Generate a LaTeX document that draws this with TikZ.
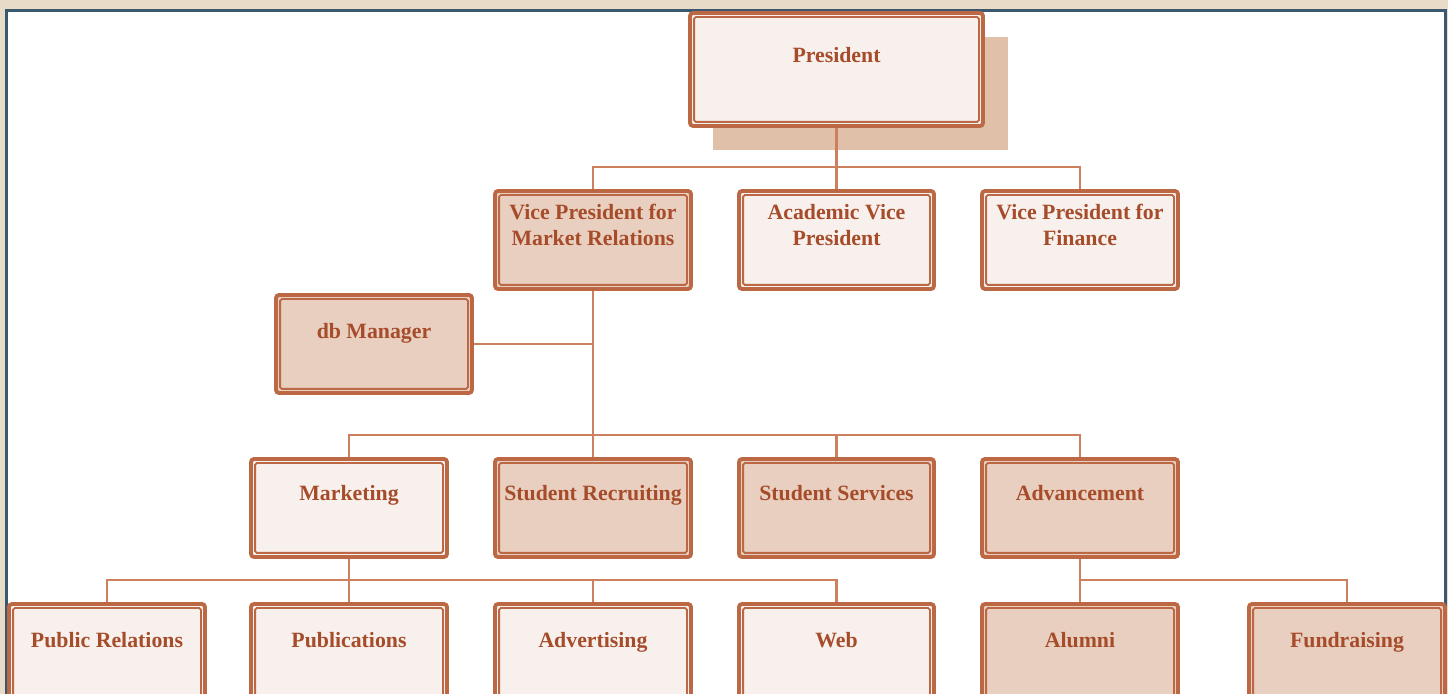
\documentclass[tikz,border=0pt]{standalone}
\usepackage{fontspec}
\setmainfont{Liberation Serif}
\definecolor{bord}{RGB}{188,104,68}
\definecolor{conn}{RGB}{204,128,94}
\definecolor{txtc}{RGB}{166,76,42}
\definecolor{dk}{RGB}{232,207,191}
\definecolor{lt}{RGB}{247,240,236}
\definecolor{shad}{RGB}{225,192,170}
\definecolor{frame}{RGB}{58,88,112}
\definecolor{beige}{RGB}{232,220,200}
\tikzset{
  box/.style={draw=bord, line width=1.9pt, rounded corners=1.5pt, inner sep=0pt},
  innerbox/.style={draw=bord, line width=0.9pt, rounded corners=0.8pt},
  lbl/.style={font=\fontsize{10.9}{13}\selectfont\bfseries, text=txtc, align=center,
              inner sep=0pt, text height=7.2pt, text depth=0pt},
  link/.style={draw=conn, line width=1.45pt},
}
\newcommand\obox[6]{\node[box, fill=#6, minimum width=#4*0.5pt, minimum height=#5*0.5pt] (#1) at (#2,#3) {};}
\begin{document}
\begin{tikzpicture}[x=0.5pt, y=-0.5pt]
\useasboundingbox (0,0) rectangle (1448,694);
\clip (0,0) rectangle (1448,694);
\fill[beige] (0,0) rectangle (1448,694);
\draw[frame, line width=1.4pt, fill=white] (6.7,10.5) rectangle (1445.3,720);

% helper levels
\coordinate (b1) at (0,167);
\coordinate (b2) at (0,435);
\coordinate (b3) at (0,580);

% shadow of president
\fill[shad] (713,37) rectangle (1008,150);

% boxes
\obox{pres}{836.5}{69.5}{293}{113}{lt}
\obox{vpm}{593}{240}{196}{98}{dk}
\obox{avp}{836.5}{240}{195}{98}{lt}
\obox{vpf}{1080}{240}{196}{98}{lt}
\obox{db}{374}{344}{196}{98}{dk}
\obox{mkt}{349}{508}{196}{98}{lt}
\obox{sr}{593}{508}{196}{98}{dk}
\obox{ss}{836.5}{508}{195}{98}{dk}
\obox{adv}{1080}{508}{196}{98}{dk}
\obox{pr}{107}{653}{196}{98}{lt}
\obox{pub}{349}{653}{196}{98}{lt}
\obox{advt}{593}{653}{196}{98}{lt}
\obox{web}{836.5}{653}{195}{98}{lt}
\obox{alum}{1080}{653}{196}{98}{dk}
\obox{fund}{1347}{653}{196}{98}{dk}

\foreach \n in {pres,vpm,avp,vpf,db,mkt,sr,ss,adv,pr,pub,advt,web,alum,fund}
  \draw[innerbox] ([shift={(6,6)}]\n.north west) rectangle ([shift={(-6,-6)}]\n.south east);

% connectors
\draw[link] (pres.south) -- (avp.north);
\draw[link] (vpm.north) |- (pres.south |- b1) -| (vpf.north);
\draw[link] (vpm.south) -- (sr.north);
\draw[link] (db.east) -- (db.east -| vpm.south);
\draw[link] (mkt.north) |- (adv.north |- b2) -- (adv.north);
\draw[link] (ss.north) -- (ss.north |- b2);
\draw[link] (mkt.south) -- (pub.north);
\draw[link] (pr.north) |- (web.north |- b3) -- (web.north);
\draw[link] (advt.north) -- (advt.north |- b3);
\draw[link] (adv.south) -- (alum.north);
\draw[link] (alum.north |- b3) -| (fund.north);

% labels
\node[lbl] (t-pres) at (836.5,55) {President};
\node[lbl] (t-vpm) at (593,238) {Vice President for\\Market Relations};
\node[lbl] (t-avp) at (836.5,238) {Academic Vice\\President};
\node[lbl] (t-vpf) at (1080,238) {Vice President for\\Finance};
\node[lbl] (t-db) at (374,331) {db Manager};
\node[lbl] (t-mkt) at (349,493) {Marketing};
\node[lbl] (t-sr) at (593,493) {Student Recruiting};
\node[lbl] (t-ss) at (836.5,493) {Student Services};
\node[lbl] (t-adv) at (1080,493) {Advancement};
\node[lbl] (t-pr) at (107,640) {Public Relations};
\node[lbl] (t-pub) at (349,640) {Publications};
\node[lbl] (t-advt) at (593,640) {Advertising};
\node[lbl] (t-web) at (836.5,640) {Web};
\node[lbl] (t-alum) at (1080,640) {Alumni};
\node[lbl] (t-fund) at (1347,640) {Fundraising};
\end{tikzpicture}
\end{document}
